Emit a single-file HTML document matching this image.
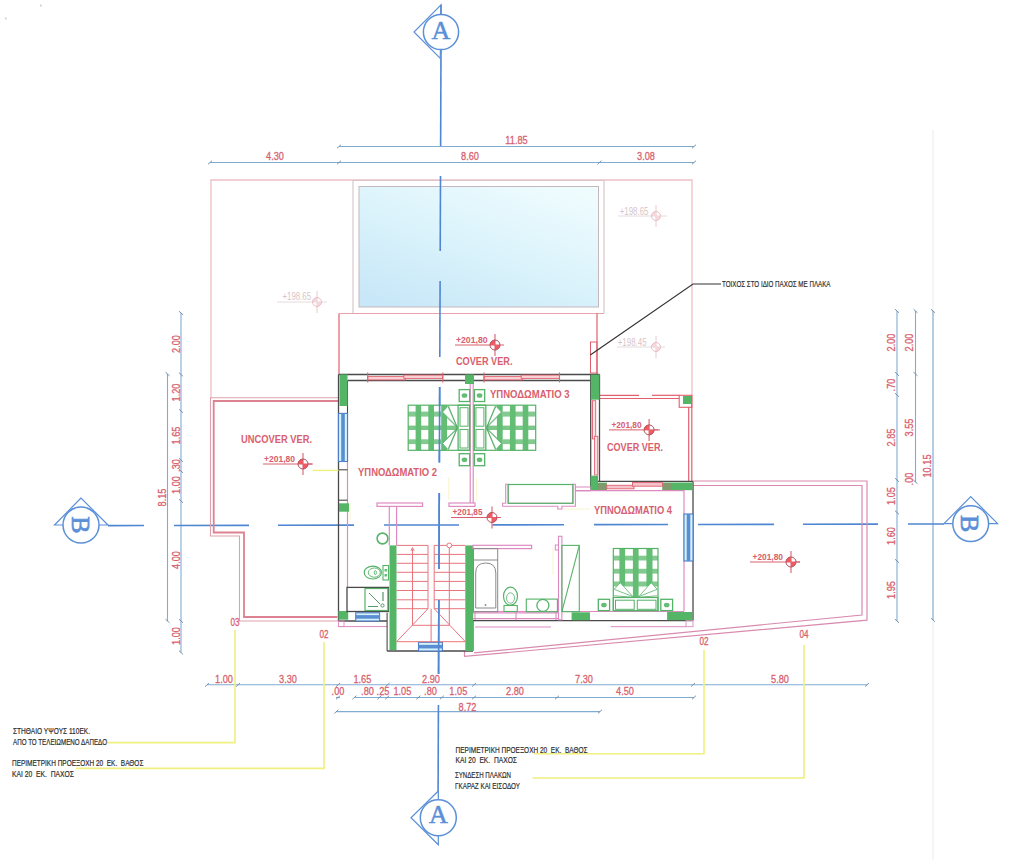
<!DOCTYPE html><html><head><meta charset="utf-8"><style>html,body{margin:0;padding:0;background:#fff;overflow:hidden}svg{display:block}</style></head><body>
<svg width="1024" height="860" viewBox="0 0 1024 860">
<defs><linearGradient id="pool" x1="0.15" y1="1" x2="0.85" y2="0"><stop offset="0" stop-color="#c8e7f8"/><stop offset="0.45" stop-color="#d9f2fb"/><stop offset="1" stop-color="#effcfe"/></linearGradient></defs>
<rect width="1024" height="860" fill="#fff"/>
<rect x="40" y="4.5" width="1.6" height="2" fill="#d0d0d0"/><rect x="5" y="17.5" width="1.6" height="2" fill="#d0d0d0"/>
<line x1="933" y1="130" x2="933" y2="860" stroke="#ebebeb" stroke-width="1" />
<polyline points="211,398 211,180 692,180 692,395" stroke="#f0bec6" stroke-width="1.3" fill="none"/>
<rect x="359" y="186.5" width="239.50" height="120.50" fill="url(#pool)" stroke="none" stroke-width="1" />
<rect x="359" y="186.5" width="239.50" height="120.50" fill="none" stroke="#c4b8bc" stroke-width="1" />
<polyline points="353,313 353,180.5 604,180.5 604,313" stroke="#d8c8cc" stroke-width="1.2" fill="none"/>
<line x1="339" y1="313.5" x2="339" y2="374" stroke="#e2606e" stroke-width="1.2" />
<line x1="339" y1="313.5" x2="604" y2="313.5" stroke="#e8a0aa" stroke-width="1.2" />
<line x1="597" y1="313.5" x2="597" y2="374" stroke="#e2606e" stroke-width="1.2" />
<rect x="590.5" y="342" width="6.50" height="31.00" fill="none" stroke="#e2606e" stroke-width="1" />
<line x1="339" y1="146.5" x2="694" y2="146.5" stroke="#80acd2" stroke-width="1.1" />
<line x1="210" y1="162.5" x2="694" y2="162.5" stroke="#80acd2" stroke-width="1.1" />
<line x1="337" y1="148.3" x2="341" y2="144.7" stroke="#6a8aa6" stroke-width="0.9" />
<line x1="692" y1="148.3" x2="696" y2="144.7" stroke="#6a8aa6" stroke-width="0.9" />
<line x1="208" y1="164.3" x2="212" y2="160.7" stroke="#6a8aa6" stroke-width="0.9" />
<line x1="337" y1="164.3" x2="341" y2="160.7" stroke="#6a8aa6" stroke-width="0.9" />
<line x1="597.5" y1="164.3" x2="601.5" y2="160.7" stroke="#6a8aa6" stroke-width="0.9" />
<line x1="692" y1="164.3" x2="696" y2="160.7" stroke="#6a8aa6" stroke-width="0.9" />
<text transform="translate(516.5,140.3) scale(0.8,1)" y="4.12" font-family="Liberation Sans" font-size="11.5" fill="#d8606e" stroke="#d8606e" stroke-width="0.3" text-anchor="middle" font-weight="normal" opacity="1">11.85</text>
<text transform="translate(275,156) scale(0.8,1)" y="4.12" font-family="Liberation Sans" font-size="11.5" fill="#d8606e" stroke="#d8606e" stroke-width="0.3" text-anchor="middle" font-weight="normal" opacity="1">4.30</text>
<text transform="translate(470,156) scale(0.8,1)" y="4.12" font-family="Liberation Sans" font-size="11.5" fill="#d8606e" stroke="#d8606e" stroke-width="0.3" text-anchor="middle" font-weight="normal" opacity="1">8.60</text>
<text transform="translate(646,156) scale(0.8,1)" y="4.12" font-family="Liberation Sans" font-size="11.5" fill="#d8606e" stroke="#d8606e" stroke-width="0.3" text-anchor="middle" font-weight="normal" opacity="1">3.08</text>
<line x1="181" y1="313" x2="181" y2="652.5" stroke="#80acd2" stroke-width="1.1" />
<line x1="179" y1="311.2" x2="183" y2="314.8" stroke="#6a8aa6" stroke-width="0.9" />
<line x1="179" y1="372.7" x2="183" y2="376.3" stroke="#6a8aa6" stroke-width="0.9" />
<line x1="179" y1="409.2" x2="183" y2="412.8" stroke="#6a8aa6" stroke-width="0.9" />
<line x1="179" y1="458.2" x2="183" y2="461.8" stroke="#6a8aa6" stroke-width="0.9" />
<line x1="179" y1="469.2" x2="183" y2="472.8" stroke="#6a8aa6" stroke-width="0.9" />
<line x1="179" y1="499.2" x2="183" y2="502.8" stroke="#6a8aa6" stroke-width="0.9" />
<line x1="179" y1="619.2" x2="183" y2="622.8" stroke="#6a8aa6" stroke-width="0.9" />
<line x1="179" y1="650.7" x2="183" y2="654.3" stroke="#6a8aa6" stroke-width="0.9" />
<line x1="167.5" y1="374" x2="167.5" y2="621" stroke="#80acd2" stroke-width="1.1" />
<line x1="165.5" y1="372.2" x2="169.5" y2="375.8" stroke="#6a8aa6" stroke-width="0.9" />
<line x1="165.5" y1="619.2" x2="169.5" y2="622.8" stroke="#6a8aa6" stroke-width="0.9" />
<text transform="translate(175.5,344) rotate(-90) scale(0.8,1)" y="4.12" font-family="Liberation Sans" font-size="11.5" fill="#d8606e" stroke="#d8606e" stroke-width="0.3" text-anchor="middle" font-weight="normal" opacity="1">2.00</text>
<text transform="translate(175.5,392.5) rotate(-90) scale(0.8,1)" y="4.12" font-family="Liberation Sans" font-size="11.5" fill="#d8606e" stroke="#d8606e" stroke-width="0.3" text-anchor="middle" font-weight="normal" opacity="1">1.20</text>
<text transform="translate(175.5,435.5) rotate(-90) scale(0.8,1)" y="4.12" font-family="Liberation Sans" font-size="11.5" fill="#d8606e" stroke="#d8606e" stroke-width="0.3" text-anchor="middle" font-weight="normal" opacity="1">1.65</text>
<text transform="translate(175.5,465.5) rotate(-90) scale(0.8,1)" y="4.12" font-family="Liberation Sans" font-size="11.5" fill="#d8606e" stroke="#d8606e" stroke-width="0.3" text-anchor="middle" font-weight="normal" opacity="1">.30</text>
<text transform="translate(175.5,485) rotate(-90) scale(0.8,1)" y="4.12" font-family="Liberation Sans" font-size="11.5" fill="#d8606e" stroke="#d8606e" stroke-width="0.3" text-anchor="middle" font-weight="normal" opacity="1">1.00</text>
<text transform="translate(175.5,560) rotate(-90) scale(0.8,1)" y="4.12" font-family="Liberation Sans" font-size="11.5" fill="#d8606e" stroke="#d8606e" stroke-width="0.3" text-anchor="middle" font-weight="normal" opacity="1">4.00</text>
<text transform="translate(175.5,636) rotate(-90) scale(0.8,1)" y="4.12" font-family="Liberation Sans" font-size="11.5" fill="#d8606e" stroke="#d8606e" stroke-width="0.3" text-anchor="middle" font-weight="normal" opacity="1">1.00</text>
<text transform="translate(161.5,497.5) rotate(-90) scale(0.8,1)" y="4.12" font-family="Liberation Sans" font-size="11.5" fill="#d8606e" stroke="#d8606e" stroke-width="0.3" text-anchor="middle" font-weight="normal" opacity="1">8.15</text>
<line x1="897" y1="311" x2="897" y2="621" stroke="#80acd2" stroke-width="1.1" />
<line x1="895" y1="309.2" x2="899" y2="312.8" stroke="#6a8aa6" stroke-width="0.9" />
<line x1="895" y1="372.2" x2="899" y2="375.8" stroke="#6a8aa6" stroke-width="0.9" />
<line x1="895" y1="393.2" x2="899" y2="396.8" stroke="#6a8aa6" stroke-width="0.9" />
<line x1="895" y1="478.2" x2="899" y2="481.8" stroke="#6a8aa6" stroke-width="0.9" />
<line x1="895" y1="510.7" x2="899" y2="514.3" stroke="#6a8aa6" stroke-width="0.9" />
<line x1="895" y1="559.2" x2="899" y2="562.8" stroke="#6a8aa6" stroke-width="0.9" />
<line x1="895" y1="619.2" x2="899" y2="622.8" stroke="#6a8aa6" stroke-width="0.9" />
<line x1="915.5" y1="311" x2="915.5" y2="482" stroke="#80acd2" stroke-width="1.1" />
<line x1="913.5" y1="309.2" x2="917.5" y2="312.8" stroke="#6a8aa6" stroke-width="0.9" />
<line x1="913.5" y1="372.2" x2="917.5" y2="375.8" stroke="#6a8aa6" stroke-width="0.9" />
<line x1="913.5" y1="480.2" x2="917.5" y2="483.8" stroke="#6a8aa6" stroke-width="0.9" />
<line x1="933" y1="311" x2="933" y2="620" stroke="#80acd2" stroke-width="1.1" />
<line x1="931" y1="309.2" x2="935" y2="312.8" stroke="#6a8aa6" stroke-width="0.9" />
<line x1="931" y1="618.2" x2="935" y2="621.8" stroke="#6a8aa6" stroke-width="0.9" />
<text transform="translate(891,342.5) rotate(-90) scale(0.8,1)" y="4.12" font-family="Liberation Sans" font-size="11.5" fill="#d8606e" stroke="#d8606e" stroke-width="0.3" text-anchor="middle" font-weight="normal" opacity="1">2.00</text>
<text transform="translate(891,385) rotate(-90) scale(0.8,1)" y="4.12" font-family="Liberation Sans" font-size="11.5" fill="#d8606e" stroke="#d8606e" stroke-width="0.3" text-anchor="middle" font-weight="normal" opacity="1">.70</text>
<text transform="translate(891,437.5) rotate(-90) scale(0.8,1)" y="4.12" font-family="Liberation Sans" font-size="11.5" fill="#d8606e" stroke="#d8606e" stroke-width="0.3" text-anchor="middle" font-weight="normal" opacity="1">2.85</text>
<text transform="translate(891,496) rotate(-90) scale(0.8,1)" y="4.12" font-family="Liberation Sans" font-size="11.5" fill="#d8606e" stroke="#d8606e" stroke-width="0.3" text-anchor="middle" font-weight="normal" opacity="1">1.05</text>
<text transform="translate(891,536) rotate(-90) scale(0.8,1)" y="4.12" font-family="Liberation Sans" font-size="11.5" fill="#d8606e" stroke="#d8606e" stroke-width="0.3" text-anchor="middle" font-weight="normal" opacity="1">1.60</text>
<text transform="translate(891,590) rotate(-90) scale(0.8,1)" y="4.12" font-family="Liberation Sans" font-size="11.5" fill="#d8606e" stroke="#d8606e" stroke-width="0.3" text-anchor="middle" font-weight="normal" opacity="1">1.95</text>
<text transform="translate(909,342.5) rotate(-90) scale(0.8,1)" y="4.12" font-family="Liberation Sans" font-size="11.5" fill="#d8606e" stroke="#d8606e" stroke-width="0.3" text-anchor="middle" font-weight="normal" opacity="1">2.00</text>
<text transform="translate(909,427.5) rotate(-90) scale(0.8,1)" y="4.12" font-family="Liberation Sans" font-size="11.5" fill="#d8606e" stroke="#d8606e" stroke-width="0.3" text-anchor="middle" font-weight="normal" opacity="1">3.55</text>
<text transform="translate(909,479) rotate(-90) scale(0.8,1)" y="4.12" font-family="Liberation Sans" font-size="11.5" fill="#d8606e" stroke="#d8606e" stroke-width="0.3" text-anchor="middle" font-weight="normal" opacity="1">.00</text>
<text transform="translate(927,466) rotate(-90) scale(0.8,1)" y="4.12" font-family="Liberation Sans" font-size="11.5" fill="#d8606e" stroke="#d8606e" stroke-width="0.3" text-anchor="middle" font-weight="normal" opacity="1">10.15</text>
<line x1="207" y1="684.8" x2="867" y2="684.8" stroke="#80acd2" stroke-width="1.1" />
<line x1="205" y1="686.5999999999999" x2="209" y2="683.0" stroke="#6a8aa6" stroke-width="0.9" />
<line x1="236" y1="686.5999999999999" x2="240" y2="683.0" stroke="#6a8aa6" stroke-width="0.9" />
<line x1="336" y1="686.5999999999999" x2="340" y2="683.0" stroke="#6a8aa6" stroke-width="0.9" />
<line x1="385.5" y1="686.5999999999999" x2="389.5" y2="683.0" stroke="#6a8aa6" stroke-width="0.9" />
<line x1="472" y1="686.5999999999999" x2="476" y2="683.0" stroke="#6a8aa6" stroke-width="0.9" />
<line x1="691" y1="686.5999999999999" x2="695" y2="683.0" stroke="#6a8aa6" stroke-width="0.9" />
<line x1="865" y1="686.5999999999999" x2="869" y2="683.0" stroke="#6a8aa6" stroke-width="0.9" />
<line x1="354.4" y1="697.5" x2="694" y2="697.5" stroke="#80acd2" stroke-width="1.1" />
<line x1="336" y1="697.5" x2="340" y2="697.5" stroke="#80acd2" stroke-width="1.1" />
<line x1="336" y1="699.3" x2="340" y2="695.7" stroke="#6a8aa6" stroke-width="0.9" />
<line x1="352.4" y1="699.3" x2="356.4" y2="695.7" stroke="#6a8aa6" stroke-width="0.9" />
<line x1="377.4" y1="699.3" x2="381.4" y2="695.7" stroke="#6a8aa6" stroke-width="0.9" />
<line x1="385.2" y1="699.3" x2="389.2" y2="695.7" stroke="#6a8aa6" stroke-width="0.9" />
<line x1="416.4" y1="699.3" x2="420.4" y2="695.7" stroke="#6a8aa6" stroke-width="0.9" />
<line x1="439.9" y1="699.3" x2="443.9" y2="695.7" stroke="#6a8aa6" stroke-width="0.9" />
<line x1="472" y1="699.3" x2="476" y2="695.7" stroke="#6a8aa6" stroke-width="0.9" />
<line x1="555" y1="699.3" x2="559" y2="695.7" stroke="#6a8aa6" stroke-width="0.9" />
<line x1="692" y1="699.3" x2="696" y2="695.7" stroke="#6a8aa6" stroke-width="0.9" />
<line x1="336.4" y1="711.6" x2="600" y2="711.6" stroke="#80acd2" stroke-width="1.1" />
<line x1="334.4" y1="713.4" x2="338.4" y2="709.8000000000001" stroke="#6a8aa6" stroke-width="0.9" />
<line x1="598" y1="713.4" x2="602" y2="709.8000000000001" stroke="#6a8aa6" stroke-width="0.9" />
<text transform="translate(224,678.5) scale(0.8,1)" y="4.12" font-family="Liberation Sans" font-size="11.5" fill="#d8606e" stroke="#d8606e" stroke-width="0.3" text-anchor="middle" font-weight="normal" opacity="1">1.00</text>
<text transform="translate(288,678.5) scale(0.8,1)" y="4.12" font-family="Liberation Sans" font-size="11.5" fill="#d8606e" stroke="#d8606e" stroke-width="0.3" text-anchor="middle" font-weight="normal" opacity="1">3.30</text>
<text transform="translate(362.4,678.5) scale(0.8,1)" y="4.12" font-family="Liberation Sans" font-size="11.5" fill="#d8606e" stroke="#d8606e" stroke-width="0.3" text-anchor="middle" font-weight="normal" opacity="1">1.65</text>
<text transform="translate(431,678.5) scale(0.8,1)" y="4.12" font-family="Liberation Sans" font-size="11.5" fill="#d8606e" stroke="#d8606e" stroke-width="0.3" text-anchor="middle" font-weight="normal" opacity="1">2.90</text>
<text transform="translate(584,678.5) scale(0.8,1)" y="4.12" font-family="Liberation Sans" font-size="11.5" fill="#d8606e" stroke="#d8606e" stroke-width="0.3" text-anchor="middle" font-weight="normal" opacity="1">7.30</text>
<text transform="translate(780,678.5) scale(0.8,1)" y="4.12" font-family="Liberation Sans" font-size="11.5" fill="#d8606e" stroke="#d8606e" stroke-width="0.3" text-anchor="middle" font-weight="normal" opacity="1">5.80</text>
<text transform="translate(338,691.3) scale(0.8,1)" y="4.12" font-family="Liberation Sans" font-size="11.5" fill="#d8606e" stroke="#d8606e" stroke-width="0.3" text-anchor="middle" font-weight="normal" opacity="1">.00</text>
<text transform="translate(367.5,691.3) scale(0.8,1)" y="4.12" font-family="Liberation Sans" font-size="11.5" fill="#d8606e" stroke="#d8606e" stroke-width="0.3" text-anchor="middle" font-weight="normal" opacity="1">.80</text>
<text transform="translate(383,691.3) scale(0.8,1)" y="4.12" font-family="Liberation Sans" font-size="11.5" fill="#d8606e" stroke="#d8606e" stroke-width="0.3" text-anchor="middle" font-weight="normal" opacity="1">.25</text>
<text transform="translate(402.4,691.3) scale(0.8,1)" y="4.12" font-family="Liberation Sans" font-size="11.5" fill="#d8606e" stroke="#d8606e" stroke-width="0.3" text-anchor="middle" font-weight="normal" opacity="1">1.05</text>
<text transform="translate(430.5,691.3) scale(0.8,1)" y="4.12" font-family="Liberation Sans" font-size="11.5" fill="#d8606e" stroke="#d8606e" stroke-width="0.3" text-anchor="middle" font-weight="normal" opacity="1">.80</text>
<text transform="translate(458.3,691.3) scale(0.8,1)" y="4.12" font-family="Liberation Sans" font-size="11.5" fill="#d8606e" stroke="#d8606e" stroke-width="0.3" text-anchor="middle" font-weight="normal" opacity="1">1.05</text>
<text transform="translate(515,691.3) scale(0.8,1)" y="4.12" font-family="Liberation Sans" font-size="11.5" fill="#d8606e" stroke="#d8606e" stroke-width="0.3" text-anchor="middle" font-weight="normal" opacity="1">2.80</text>
<text transform="translate(625,691.3) scale(0.8,1)" y="4.12" font-family="Liberation Sans" font-size="11.5" fill="#d8606e" stroke="#d8606e" stroke-width="0.3" text-anchor="middle" font-weight="normal" opacity="1">4.50</text>
<text transform="translate(467.5,706.8) scale(0.8,1)" y="4.12" font-family="Liberation Sans" font-size="11.5" fill="#d8606e" stroke="#d8606e" stroke-width="0.3" text-anchor="middle" font-weight="normal" opacity="1">8.72</text>
<line x1="441.0" y1="50" x2="440.62" y2="146" stroke="#4f86d2" stroke-width="1.6" />
<line x1="440.51" y1="176" x2="440.21" y2="251" stroke="#4f86d2" stroke-width="1.6" />
<line x1="440.1" y1="281" x2="439.8" y2="357" stroke="#4f86d2" stroke-width="1.6" />
<line x1="439.68" y1="387" x2="439.38" y2="462.5" stroke="#4f86d2" stroke-width="1.6" />
<line x1="439.27" y1="493" x2="438.97" y2="569" stroke="#4f86d2" stroke-width="1.6" />
<line x1="438.85" y1="600" x2="438.56" y2="674" stroke="#4f86d2" stroke-width="1.6" />
<line x1="438.43" y1="705" x2="438.07" y2="798" stroke="#4f86d2" stroke-width="1.6" />
<line x1="108" y1="525.6" x2="144" y2="525.53" stroke="#4f86d2" stroke-width="1.6" />
<line x1="174" y1="525.47" x2="249" y2="525.33" stroke="#4f86d2" stroke-width="1.6" />
<line x1="278" y1="525.27" x2="354" y2="525.13" stroke="#4f86d2" stroke-width="1.6" />
<line x1="384" y1="525.07" x2="459" y2="524.93" stroke="#4f86d2" stroke-width="1.6" />
<line x1="492.5" y1="524.86" x2="564" y2="524.73" stroke="#4f86d2" stroke-width="1.6" />
<line x1="594" y1="524.67" x2="668" y2="524.53" stroke="#4f86d2" stroke-width="1.6" />
<line x1="698" y1="524.47" x2="774" y2="524.33" stroke="#4f86d2" stroke-width="1.6" />
<line x1="803" y1="524.27" x2="878" y2="524.13" stroke="#4f86d2" stroke-width="1.6" />
<line x1="908" y1="524.07" x2="944" y2="524.0" stroke="#4f86d2" stroke-width="1.6" />
<polygon points="441,4.8 414,32 440.3,58.4" stroke="#5b90d8" stroke-width="1.2" fill="#fff"/>
<circle cx="441" cy="32" r="17.6" fill="#fff" stroke="#5b90d8" stroke-width="1.5"/>
<line x1="441" y1="4.8" x2="441" y2="14.5" stroke="#4f86d2" stroke-width="1.4" />
<text x="441" y="39" font-family="Liberation Serif" font-size="26" fill="#5b90d8" stroke="#5b90d8" stroke-width="0.55" text-anchor="middle">A</text>
<polygon points="438.3,791 411,817.8 438.3,844.8" stroke="#5b90d8" stroke-width="1.2" fill="#fff"/>
<circle cx="438.3" cy="817.8" r="18" fill="#fff" stroke="#5b90d8" stroke-width="1.5"/>
<text x="438.3" y="823.3" font-family="Liberation Serif" font-size="26" fill="#5b90d8" stroke="#5b90d8" stroke-width="0.55" text-anchor="middle">A</text>
<polygon points="81,498 54.5,525 108,525" stroke="#5b90d8" stroke-width="1.2" fill="#fff"/>
<circle cx="81" cy="525" r="18" fill="#fff" stroke="#5b90d8" stroke-width="1.5"/>
<text transform="translate(81,525) rotate(90)" y="9.2" font-family="Liberation Serif" font-size="26" fill="#5b90d8" stroke="#5b90d8" stroke-width="0.7" text-anchor="middle">B</text>
<polygon points="970.7,496.6 944,523.7 997.6,523.7" stroke="#5b90d8" stroke-width="1.2" fill="#fff"/>
<circle cx="970.7" cy="523.7" r="17.9" fill="#fff" stroke="#5b90d8" stroke-width="1.5"/>
<text transform="translate(970.7,523.7) rotate(90)" y="9.2" font-family="Liberation Serif" font-size="26" fill="#5b90d8" stroke="#5b90d8" stroke-width="0.7" text-anchor="middle">B</text>
<polyline points="339,397.7 210.5,397.7 210.5,536 239.5,536 239.5,621 338,621" stroke="#dea2ac" stroke-width="1.1" fill="none"/>
<polyline points="339,401 213.7,401 213.7,532.5 244,532.5 244,617 337.5,617" stroke="#dc8292" stroke-width="1.8" fill="none"/>
<polyline points="693,481 867,481 867,620.2 464.5,656.4 464.5,651" stroke="#d98aae" stroke-width="1.2" fill="none"/>
<polyline points="693,485.5 862,485.5 862,615 474,652.9" stroke="#d98aae" stroke-width="1.2" fill="none"/>
<line x1="599.5" y1="395.3" x2="639" y2="395.3" stroke="#e2606e" stroke-width="1.2" />
<line x1="652" y1="395.3" x2="679.2" y2="395.3" stroke="#e2606e" stroke-width="1.2" />
<line x1="599.5" y1="398.5" x2="679.2" y2="398.5" stroke="#e2606e" stroke-width="1.2" />
<rect x="679.2" y="395.3" width="12.60" height="12.00" fill="none" stroke="#e2606e" stroke-width="1.1" />
<rect x="683" y="396" width="8.80" height="8.00" fill="#55b567" stroke="none" stroke-width="1" />
<line x1="688.7" y1="407.3" x2="688.7" y2="482" stroke="#e2606e" stroke-width="1.2" />
<line x1="691.8" y1="395" x2="691.8" y2="482" stroke="#e2606e" stroke-width="1.2" />
<line x1="338.5" y1="374.5" x2="599.5" y2="374.5" stroke="#4a4a4a" stroke-width="1.3" />
<line x1="347.5" y1="380.5" x2="590.5" y2="380.5" stroke="#4a4a4a" stroke-width="1.3" />
<line x1="338.5" y1="374.5" x2="338.5" y2="621" stroke="#4a4a4a" stroke-width="1.3" />
<line x1="347.5" y1="461.5" x2="347.5" y2="587.5" stroke="#de8ac2" stroke-width="1.2" />
<line x1="347.5" y1="380.5" x2="347.5" y2="461.5" stroke="#4a4a4a" stroke-width="1.1" />
<line x1="338.5" y1="500.2" x2="347.5" y2="500.2" stroke="#4a4a4a" stroke-width="1.1" />
<line x1="338.5" y1="469.8" x2="347.5" y2="469.8" stroke="#4a4a4a" stroke-width="1.1" />
<line x1="590.7" y1="374.5" x2="590.7" y2="490" stroke="#4a4a4a" stroke-width="1.3" />
<line x1="599.5" y1="374.5" x2="599.5" y2="482" stroke="#4a4a4a" stroke-width="1.3" />
<rect x="592.5" y="400.7" width="3.20" height="38.20" fill="#fbe3e6" stroke="#e2606e" stroke-width="0.9" />
<rect x="594.6" y="436.3" width="3.20" height="38.70" fill="#fbe3e6" stroke="#e2606e" stroke-width="0.9" />
<line x1="598" y1="481.4" x2="693" y2="481.4" stroke="#4a4a4a" stroke-width="1.3" />
<line x1="693" y1="481.4" x2="693" y2="620.5" stroke="#4a4a4a" stroke-width="1.3" />
<line x1="684" y1="490" x2="684" y2="611" stroke="#de8ac2" stroke-width="1.2" />
<line x1="473" y1="620.7" x2="693" y2="620.7" stroke="#4a4a4a" stroke-width="1.3" />
<line x1="473" y1="611.5" x2="684" y2="611.5" stroke="#de8ac2" stroke-width="1.1" />
<line x1="338.5" y1="621" x2="387" y2="621" stroke="#4a4a4a" stroke-width="1.3" />
<line x1="338.5" y1="626.6" x2="387" y2="626.6" stroke="#de8ac2" stroke-width="1" />
<rect x="338.5" y="621" width="5.50" height="5.60" fill="none" stroke="#de8ac2" stroke-width="0.9" />
<line x1="387.1" y1="612.8" x2="387.1" y2="651" stroke="#4a4a4a" stroke-width="1.1" />
<line x1="387.1" y1="651" x2="473" y2="651" stroke="#4a4a4a" stroke-width="1.3" />
<line x1="473" y1="620.7" x2="473" y2="651" stroke="#4a4a4a" stroke-width="1.1" />
<rect x="686" y="620.5" width="7.00" height="6.20" fill="none" stroke="#de8ac2" stroke-width="0.9" />
<line x1="610.6" y1="626.7" x2="686" y2="626.7" stroke="#de8ac2" stroke-width="1" />
<line x1="475" y1="627" x2="551" y2="627" stroke="#de8ac2" stroke-width="1" />
<rect x="575.4" y="487" width="15.10" height="3.80" fill="none" stroke="#de8ac2" stroke-width="1" />
<line x1="470.2" y1="384" x2="470.2" y2="504" stroke="#de8ac2" stroke-width="1.2" />
<line x1="473.2" y1="384" x2="473.2" y2="504" stroke="#de8ac2" stroke-width="1.2" />
<rect x="339.5" y="374.5" width="8.00" height="31.50" fill="#55b567" stroke="none" stroke-width="1" />
<rect x="465" y="374.5" width="9.00" height="9.50" fill="#55b567" stroke="none" stroke-width="1" />
<rect x="590.7" y="374.6" width="8.80" height="25.10" fill="#55b567" stroke="none" stroke-width="1" />
<rect x="339" y="503.3" width="10.00" height="8.40" fill="#55b567" stroke="none" stroke-width="1" />
<rect x="338.5" y="611" width="9.70" height="8.70" fill="#55b567" stroke="none" stroke-width="1" />
<rect x="389.5" y="545.4" width="7.00" height="104.60" fill="#55b567" stroke="none" stroke-width="1" />
<rect x="465.3" y="545.4" width="7.90" height="105.60" fill="#55b567" stroke="none" stroke-width="1" />
<rect x="590.5" y="475.7" width="7.50" height="14.50" fill="#55b567" stroke="none" stroke-width="1" />
<rect x="598" y="482.6" width="8.80" height="7.60" fill="#55b567" stroke="none" stroke-width="1" />
<rect x="662.5" y="482.5" width="30.00" height="7.70" fill="#55b567" stroke="none" stroke-width="1" />
<rect x="571.6" y="612.3" width="18.40" height="7.90" fill="#55b567" stroke="none" stroke-width="1" />
<rect x="667.1" y="612" width="25.20" height="8.20" fill="#55b567" stroke="none" stroke-width="1" />
<rect x="597.5" y="483.5" width="9.30" height="6.70" fill="#7f9a6c" stroke="none" stroke-width="1" />
<rect x="662.5" y="483" width="9.00" height="7.20" fill="#7f9a6c" stroke="none" stroke-width="1" />
<rect x="338.5" y="413.4" width="9.00" height="48.10" fill="#d6f2fb" stroke="#4a7cc8" stroke-width="1.1" />
<rect x="341.2" y="413.4" width="3.60" height="48.10" fill="#5a8ed2" stroke="none" stroke-width="1" />
<rect x="355.7" y="612.8" width="23.90" height="8.20" fill="#d6f2fb" stroke="#4a7cc8" stroke-width="1.1" />
<rect x="355.7" y="615.1" width="23.90" height="3.60" fill="#5a8ed2" stroke="none" stroke-width="1" />
<rect x="418.5" y="642.3" width="23.90" height="8.70" fill="#d6f2fb" stroke="#4a7cc8" stroke-width="1.1" />
<rect x="418.5" y="644.85" width="23.90" height="3.60" fill="#5a8ed2" stroke="none" stroke-width="1" />
<rect x="684" y="514" width="9.00" height="47.00" fill="#d6f2fb" stroke="#4a7cc8" stroke-width="1.1" />
<rect x="686.7" y="514" width="3.60" height="47.00" fill="#5a8ed2" stroke="none" stroke-width="1" />
<rect x="367.7" y="376.6" width="37.80" height="3.30" fill="#f8d4d8" stroke="#e2606e" stroke-width="0.9" />
<rect x="403.9" y="375.1" width="38.90" height="3.30" fill="#f8d4d8" stroke="#e2606e" stroke-width="0.9" />
<line x1="367.7" y1="372.5" x2="367.7" y2="382.5" stroke="#e2606e" stroke-width="1.1" />
<line x1="442.8" y1="372.5" x2="442.8" y2="382.5" stroke="#e2606e" stroke-width="1.1" />
<rect x="484" y="376.6" width="38.80" height="3.30" fill="#f8d4d8" stroke="#e2606e" stroke-width="0.9" />
<rect x="521.2" y="375.1" width="38.30" height="3.30" fill="#f8d4d8" stroke="#e2606e" stroke-width="0.9" />
<line x1="484" y1="372.5" x2="484" y2="382.5" stroke="#e2606e" stroke-width="1.1" />
<line x1="559.5" y1="372.5" x2="559.5" y2="382.5" stroke="#e2606e" stroke-width="1.1" />
<rect x="606.8" y="485.3" width="27.20" height="3.50" fill="#f4c4cc" stroke="#e2606e" stroke-width="0.9" />
<rect x="632.5" y="482.6" width="30.00" height="3.60" fill="#f4c4cc" stroke="#e2606e" stroke-width="0.9" />
<line x1="575" y1="490.6" x2="684" y2="490.6" stroke="#de8ac2" stroke-width="1.1" />
<line x1="473" y1="612.9" x2="558" y2="612.9" stroke="#de8ac2" stroke-width="1.1" />
<line x1="473" y1="618.6" x2="558" y2="618.6" stroke="#de8ac2" stroke-width="1.1" />
<line x1="475" y1="611.2" x2="475" y2="620" stroke="#de8ac2" stroke-width="1.1" />
<line x1="516" y1="611.2" x2="516" y2="620" stroke="#de8ac2" stroke-width="1.1" />
<line x1="556" y1="611.2" x2="556" y2="620" stroke="#de8ac2" stroke-width="1.1" />
<rect x="408.2" y="405.2" width="38.80" height="45.10" fill="#fff" stroke="none" stroke-width="1" />
<rect x="415.6" y="405.2" width="5.60" height="45.10" fill="#64bd74" stroke="none" stroke-width="1" />
<rect x="428.3" y="405.2" width="5.70" height="45.10" fill="#64bd74" stroke="none" stroke-width="1" />
<rect x="441.2" y="405.2" width="5.80" height="45.10" fill="#64bd74" stroke="none" stroke-width="1" />
<rect x="408.20" y="411.6" width="33.00" height="5.00" fill="#64bd74" opacity="0.8"/>
<rect x="408.20" y="439.3" width="33.00" height="4.80" fill="#64bd74" opacity="0.8"/>
<rect x="408.20" y="425.6" width="49.30" height="4.4" fill="#64bd74" opacity="0.85"/>
<polygon points="442.5,412.1 447.9,406.2 456.5,426.0" stroke="#55b368" stroke-width="0.8" fill="#fff"/>
<polygon points="442.5,443.5 447.9,449.4 456.5,429.6" stroke="#55b368" stroke-width="0.8" fill="#fff"/>
<line x1="447" y1="417.5" x2="457.5" y2="427.8" stroke="#3f9a52" stroke-width="0.7" />
<line x1="447" y1="438.1" x2="457.5" y2="427.8" stroke="#3f9a52" stroke-width="0.7" />
<line x1="448.5" y1="406" x2="457.5" y2="427.8" stroke="#3f9a52" stroke-width="0.7" />
<line x1="448.5" y1="449.6" x2="457.5" y2="427.8" stroke="#3f9a52" stroke-width="0.7" />
<rect x="458.1" y="405.2" width="11.50" height="45.10" fill="#fff" stroke="#55b368" stroke-width="1.3" />
<rect x="460" y="407.7" width="8.00" height="18.50" fill="none" stroke="#55b368" stroke-width="1" />
<rect x="460" y="429.4" width="8.00" height="18.60" fill="none" stroke="#55b368" stroke-width="1" />
<rect x="408.2" y="405.2" width="61.40" height="45.10" fill="none" stroke="#55b368" stroke-width="1.2" />
<rect x="496.9" y="405.2" width="38.80" height="45.10" fill="#fff" stroke="none" stroke-width="1" />
<rect x="522.7" y="405.2" width="5.60" height="45.10" fill="#64bd74" stroke="none" stroke-width="1" />
<rect x="509.9" y="405.2" width="5.70" height="45.10" fill="#64bd74" stroke="none" stroke-width="1" />
<rect x="496.9" y="405.2" width="5.80" height="45.10" fill="#64bd74" stroke="none" stroke-width="1" />
<rect x="502.70" y="411.6" width="33.00" height="5.00" fill="#64bd74" opacity="0.8"/>
<rect x="502.70" y="439.3" width="33.00" height="4.80" fill="#64bd74" opacity="0.8"/>
<rect x="486.40" y="425.6" width="49.30" height="4.4" fill="#64bd74" opacity="0.85"/>
<polygon points="501.4,412.1 496.0,406.2 487.4,426.0" stroke="#55b368" stroke-width="0.8" fill="#fff"/>
<polygon points="501.4,443.5 496.0,449.4 487.4,429.6" stroke="#55b368" stroke-width="0.8" fill="#fff"/>
<line x1="496.9" y1="417.5" x2="486.4" y2="427.8" stroke="#3f9a52" stroke-width="0.7" />
<line x1="496.9" y1="438.1" x2="486.4" y2="427.8" stroke="#3f9a52" stroke-width="0.7" />
<line x1="495.4" y1="406" x2="486.4" y2="427.8" stroke="#3f9a52" stroke-width="0.7" />
<line x1="495.4" y1="449.6" x2="486.4" y2="427.8" stroke="#3f9a52" stroke-width="0.7" />
<rect x="474.3" y="405.2" width="11.50" height="45.10" fill="#fff" stroke="#55b368" stroke-width="1.3" />
<rect x="475.9" y="407.7" width="8.00" height="18.50" fill="none" stroke="#55b368" stroke-width="1" />
<rect x="475.9" y="429.4" width="8.00" height="18.60" fill="none" stroke="#55b368" stroke-width="1" />
<rect x="474.3" y="405.2" width="61.40" height="45.10" fill="none" stroke="#55b368" stroke-width="1.2" />
<rect x="613.3" y="548.5" width="44.70" height="49.00" fill="#fff" stroke="none" stroke-width="1" />
<rect x="619.4" y="548.5" width="5.70" height="37.50" fill="#64bd74" stroke="none" stroke-width="1" />
<rect x="646.4" y="548.5" width="6.10" height="37.50" fill="#64bd74" stroke="none" stroke-width="1" />
<rect x="632.9" y="548.5" width="5.70" height="49.00" fill="#64bd74" stroke="none" stroke-width="1" />
<rect x="613.3" y="555.7" width="44.70" height="4.80" fill="#64bd74" opacity="0.8"/>
<rect x="613.3" y="568.8" width="44.70" height="4.80" fill="#64bd74" opacity="0.8"/>
<rect x="613.3" y="581.5" width="44.70" height="5.00" fill="#64bd74" opacity="0.8"/>
<polygon points="614.2,589.3 620.3,582.7 632.8,596.6" stroke="#55b368" stroke-width="0.8" fill="#fff"/>
<polygon points="657.2,589.3 651.2,582.7 638.8,596.6" stroke="#55b368" stroke-width="0.8" fill="#fff"/>
<line x1="614.2" y1="595.8" x2="635.8" y2="597.5" stroke="#3f9a52" stroke-width="0.7" />
<line x1="657.2" y1="595.8" x2="635.8" y2="597.5" stroke="#3f9a52" stroke-width="0.7" />
<rect x="613.3" y="597.5" width="44.70" height="13.10" fill="#fff" stroke="#55b368" stroke-width="1.2" />
<rect x="615.5" y="600.2" width="18.70" height="9.10" fill="none" stroke="#55b368" stroke-width="1" />
<rect x="637.3" y="600.2" width="18.70" height="9.10" fill="none" stroke="#55b368" stroke-width="1" />
<rect x="613.3" y="548.5" width="44.70" height="62.10" fill="none" stroke="#55b368" stroke-width="1.2" />
<rect x="459.2" y="389.6" width="10.50" height="11.90" fill="#fff" stroke="#55b368" stroke-width="1.3" />
<ellipse cx="464.45" cy="395.55" rx="2.8" ry="2.3" fill="#64bd74"/>
<rect x="474.4" y="389.6" width="10.30" height="11.90" fill="#fff" stroke="#55b368" stroke-width="1.3" />
<ellipse cx="479.55" cy="395.55" rx="2.8" ry="2.3" fill="#64bd74"/>
<rect x="459.2" y="453.7" width="10.50" height="12.00" fill="#fff" stroke="#55b368" stroke-width="1.3" />
<ellipse cx="464.45" cy="459.70" rx="2.8" ry="2.3" fill="#64bd74"/>
<rect x="474.4" y="453.7" width="10.30" height="12.00" fill="#fff" stroke="#55b368" stroke-width="1.3" />
<ellipse cx="479.55" cy="459.70" rx="2.8" ry="2.3" fill="#64bd74"/>
<rect x="598.3" y="599.3" width="11.30" height="11.30" fill="#fff" stroke="#55b368" stroke-width="1.3" />
<ellipse cx="603.95" cy="604.95" rx="2.8" ry="2.3" fill="#64bd74"/>
<rect x="660.8" y="599.3" width="11.80" height="11.30" fill="#fff" stroke="#55b368" stroke-width="1.3" />
<ellipse cx="666.70" cy="604.95" rx="2.8" ry="2.3" fill="#64bd74"/>
<rect x="377" y="503" width="45.60" height="3.40" fill="#fff" stroke="#de8ac2" stroke-width="1.2" />
<line x1="389.3" y1="506.4" x2="389.3" y2="545.4" stroke="#de8ac2" stroke-width="1.2" />
<line x1="396.6" y1="506.4" x2="396.6" y2="545.4" stroke="#de8ac2" stroke-width="1.2" />
<rect x="449" y="503" width="26.00" height="3.40" fill="#fff" stroke="#de8ac2" stroke-width="1.2" />
<circle cx="382.5" cy="538.5" r="5.4" fill="none" stroke="#55b368" stroke-width="1.6"/>
<ellipse cx="372.8" cy="572.6" rx="8.6" ry="6.4" fill="none" stroke="#55b368" stroke-width="1.2"/>
<ellipse cx="374.3" cy="572.6" rx="6" ry="4.6" fill="none" stroke="#55b368" stroke-width="0.9"/>
<ellipse cx="375.3" cy="572.6" rx="1.1" ry="2" fill="none" stroke="#55b368" stroke-width="0.9"/>
<rect x="383" y="565.5" width="5.50" height="14.50" fill="#fff" stroke="#55b368" stroke-width="1.1" />
<rect x="384.5" y="569" width="2.50" height="2.50" fill="#64bd74" stroke="none" stroke-width="1" />
<rect x="384.5" y="574" width="2.50" height="2.50" fill="#64bd74" stroke="none" stroke-width="1" />
<rect x="347" y="587.4" width="41.40" height="24.10" fill="#fff" stroke="#4a4a4a" stroke-width="1.3" />
<rect x="365" y="588.5" width="23.00" height="22.00" fill="none" stroke="#55b368" stroke-width="1.2" />
<line x1="369" y1="593" x2="380" y2="604" stroke="#3f8f55" stroke-width="0.9" />
<line x1="383" y1="592" x2="383" y2="601" stroke="#3f8f55" stroke-width="1.1" />
<line x1="368" y1="606.5" x2="378" y2="606.5" stroke="#3f8f55" stroke-width="0.9" />
<circle cx="382.5" cy="605.5" r="1.6" fill="none" stroke="#3f8f55" stroke-width="0.9"/>
<line x1="396.6" y1="545.4" x2="428" y2="545.4" stroke="#e8747c" stroke-width="1" />
<line x1="434.2" y1="545.4" x2="465.3" y2="545.4" stroke="#e8747c" stroke-width="1" />
<line x1="396.6" y1="554.4" x2="428" y2="554.4" stroke="#e8747c" stroke-width="1" />
<line x1="434.2" y1="554.4" x2="465.3" y2="554.4" stroke="#e8747c" stroke-width="1" />
<line x1="396.6" y1="563.3" x2="428" y2="563.3" stroke="#e8747c" stroke-width="1" />
<line x1="434.2" y1="563.3" x2="465.3" y2="563.3" stroke="#e8747c" stroke-width="1" />
<line x1="396.6" y1="572.3" x2="428" y2="572.3" stroke="#e8747c" stroke-width="1" />
<line x1="434.2" y1="572.3" x2="465.3" y2="572.3" stroke="#e8747c" stroke-width="1" />
<line x1="396.6" y1="581.4" x2="428" y2="581.4" stroke="#e8747c" stroke-width="1" />
<line x1="434.2" y1="581.4" x2="465.3" y2="581.4" stroke="#e8747c" stroke-width="1" />
<line x1="396.6" y1="590.5" x2="428" y2="590.5" stroke="#e8747c" stroke-width="1" />
<line x1="434.2" y1="590.5" x2="465.3" y2="590.5" stroke="#e8747c" stroke-width="1" />
<line x1="396.6" y1="599.8" x2="428" y2="599.8" stroke="#e8747c" stroke-width="1" />
<line x1="434.2" y1="599.8" x2="465.3" y2="599.8" stroke="#e8747c" stroke-width="1" />
<line x1="396.6" y1="608.7" x2="428" y2="608.7" stroke="#e8747c" stroke-width="1" />
<line x1="434.2" y1="608.7" x2="465.3" y2="608.7" stroke="#e8747c" stroke-width="1" />
<line x1="428" y1="545.4" x2="428" y2="608.7" stroke="#e8747c" stroke-width="1" />
<line x1="434.2" y1="545.4" x2="434.2" y2="608.7" stroke="#e8747c" stroke-width="1" />
<line x1="412.5" y1="549" x2="412.5" y2="625.3" stroke="#e8747c" stroke-width="1" />
<polyline points="410.8,551 412.5,547.5 414.2,551" stroke="#e8747c" stroke-width="0.9" fill="none"/>
<line x1="449.3" y1="548" x2="449.3" y2="625.3" stroke="#e8747c" stroke-width="1" />
<circle cx="449.3" cy="545.4" r="2.4" fill="#fff" stroke="#e8747c" stroke-width="1"/>
<line x1="412.5" y1="625.3" x2="449.3" y2="625.3" stroke="#e8747c" stroke-width="1" />
<line x1="428" y1="608.7" x2="396.6" y2="641.7" stroke="#e8747c" stroke-width="1" />
<line x1="434.2" y1="608.7" x2="465.3" y2="641.7" stroke="#e8747c" stroke-width="1" />
<line x1="431.1" y1="608.7" x2="431.1" y2="641.7" stroke="#e8747c" stroke-width="1" />
<line x1="396.6" y1="641.7" x2="465.3" y2="641.7" stroke="#e8747c" stroke-width="1" />
<rect x="473" y="545.3" width="58.60" height="3.30" fill="#fff" stroke="#de8ac2" stroke-width="1.2" />
<rect x="473.5" y="548.6" width="24.20" height="63.10" fill="none" stroke="#8a8a8a" stroke-width="1" />
<line x1="473.5" y1="560" x2="497.7" y2="560" stroke="#8a8a8a" stroke-width="1" />
<path d="M475.7,608 L475.7,573 Q475.7,563 485.7,563 Q495.8,563 495.8,573 L495.8,608 Z" fill="none" stroke="#8a8a8a" stroke-width="1"/>
<circle cx="485.5" cy="605" r="0.9" fill="#8a8a8a"/>
<ellipse cx="510.5" cy="596.2" rx="7" ry="9" fill="none" stroke="#55b368" stroke-width="1.2"/>
<ellipse cx="510.5" cy="598" rx="4" ry="5.2" fill="none" stroke="#55b368" stroke-width="0.8"/>
<rect x="504" y="605.5" width="13.30" height="6.00" fill="none" stroke="#55b368" stroke-width="1.1" />
<rect x="526.3" y="599.1" width="31.10" height="12.60" fill="none" stroke="#55b368" stroke-width="1.1" />
<circle cx="542.9" cy="605.4" r="6" fill="none" stroke="#55b368" stroke-width="1.3"/>
<rect x="558.5" y="536.3" width="3.40" height="83.50" fill="#fff" stroke="#de8ac2" stroke-width="1.1" />
<rect x="555.3" y="545" width="3.20" height="5.00" fill="none" stroke="#de8ac2" stroke-width="1" />
<rect x="561.9" y="545.4" width="17.40" height="66.30" fill="none" stroke="#55b368" stroke-width="1.1" />
<line x1="561.9" y1="611.7" x2="579.3" y2="545.4" stroke="#55b368" stroke-width="1.1" />
<path d="M505.7,484.2 L508.2,484.2 L508.2,503.3 L572.9,503.3 L572.9,484.2 L575.4,484.2 L575.4,506.2 L561.9,506.2 L561.9,509 L557.8,509 L557.8,506.2 L502.6,506.2 L502.6,503.3 L505.7,503.3 Z" fill="none" stroke="#de8ac2" stroke-width="1.1"/>
<rect x="508.2" y="484.5" width="64.70" height="18.80" fill="none" stroke="#55b368" stroke-width="1.2" />
<line x1="448.7" y1="477" x2="448.7" y2="500" stroke="#f8f8d4" stroke-width="1.2" />
<line x1="476.5" y1="478" x2="476.5" y2="500" stroke="#f8f8d4" stroke-width="1.2" />
<line x1="553" y1="548" x2="553" y2="575" stroke="#f8f8d4" stroke-width="1.2" />
<line x1="563" y1="509" x2="590" y2="509" stroke="#f8f8d4" stroke-width="1.2" />
<line x1="350" y1="503" x2="350" y2="520" stroke="#f8f8d4" stroke-width="1.2" />
<line x1="439.68" y1="387" x2="439.38" y2="462.5" stroke="#4f86d2" stroke-width="1.6" />
<line x1="439.27" y1="493" x2="438.97" y2="569" stroke="#4f86d2" stroke-width="1.6" />
<line x1="438.85" y1="600" x2="438.56" y2="674" stroke="#4f86d2" stroke-width="1.6" />
<text x="456.00" y="343.45" textLength="31.50" lengthAdjust="spacingAndGlyphs" font-family="Liberation Sans" font-size="9.58" font-weight="bold" fill="#d8606e" opacity="1">+201,80</text>
<line x1="455" y1="345" x2="500" y2="345" stroke="#d8606e" stroke-width="1.0" />
<line x1="495" y1="334" x2="495" y2="356" stroke="#d8606e" stroke-width="1.1" />
<path d="M495,345 L490,345 A5,5 0 0 1 495,340 Z M495,345 L500,345 A5,5 0 0 1 495,350 Z" fill="#f05a62"/>
<circle cx="495" cy="345" r="5" fill="none" stroke="#b0505a" stroke-width="1"/>
<line x1="500" y1="345" x2="504" y2="345" stroke="#d8606e" stroke-width="1" />
<text x="264.00" y="462.45" textLength="31.00" lengthAdjust="spacingAndGlyphs" font-family="Liberation Sans" font-size="9.58" font-weight="bold" fill="#d8606e" opacity="1">+201,80</text>
<line x1="263" y1="464" x2="313" y2="464" stroke="#d8606e" stroke-width="1.0" />
<line x1="303" y1="453" x2="303" y2="475" stroke="#d8606e" stroke-width="1.1" />
<path d="M303,464 L298,464 A5,5 0 0 1 303,459 Z M303,464 L308,464 A5,5 0 0 1 303,469 Z" fill="#f05a62"/>
<circle cx="303" cy="464" r="5" fill="none" stroke="#b0505a" stroke-width="1"/>
<line x1="308" y1="464" x2="312" y2="464" stroke="#d8606e" stroke-width="1" />
<text x="611.40" y="428.25" textLength="30.20" lengthAdjust="spacingAndGlyphs" font-family="Liberation Sans" font-size="9.58" font-weight="bold" fill="#d8606e" opacity="1">+201,80</text>
<line x1="609" y1="429.9" x2="660" y2="429.9" stroke="#d8606e" stroke-width="1.0" />
<line x1="649.1" y1="418.9" x2="649.1" y2="440.9" stroke="#d8606e" stroke-width="1.1" />
<path d="M649.1,429.9 L644.1,429.9 A5,5 0 0 1 649.1,424.9 Z M649.1,429.9 L654.1,429.9 A5,5 0 0 1 649.1,434.9 Z" fill="#f05a62"/>
<circle cx="649.1" cy="429.9" r="5" fill="none" stroke="#b0505a" stroke-width="1"/>
<line x1="654.1" y1="429.9" x2="658.1" y2="429.9" stroke="#d8606e" stroke-width="1" />
<text x="452.50" y="515.45" textLength="30.00" lengthAdjust="spacingAndGlyphs" font-family="Liberation Sans" font-size="9.58" font-weight="bold" fill="#d8606e" opacity="1">+201,85</text>
<line x1="451" y1="517.5" x2="497" y2="517.5" stroke="#d8606e" stroke-width="1.0" />
<line x1="492" y1="506.5" x2="492" y2="528.5" stroke="#d8606e" stroke-width="1.1" />
<path d="M492,517.5 L487,517.5 A5,5 0 0 1 492,512.5 Z M492,517.5 L497,517.5 A5,5 0 0 1 492,522.5 Z" fill="#f05a62"/>
<circle cx="492" cy="517.5" r="5" fill="none" stroke="#b0505a" stroke-width="1"/>
<line x1="497" y1="517.5" x2="501" y2="517.5" stroke="#d8606e" stroke-width="1" />
<text x="752.50" y="560.45" textLength="30.50" lengthAdjust="spacingAndGlyphs" font-family="Liberation Sans" font-size="9.58" font-weight="bold" fill="#d8606e" opacity="1">+201,80</text>
<line x1="750" y1="562" x2="800" y2="562" stroke="#d8606e" stroke-width="1.0" />
<line x1="791" y1="551" x2="791" y2="573" stroke="#d8606e" stroke-width="1.1" />
<path d="M791,562 L786,562 A5,5 0 0 1 791,557 Z M791,562 L796,562 A5,5 0 0 1 791,567 Z" fill="#f05a62"/>
<circle cx="791" cy="562" r="5" fill="none" stroke="#b0505a" stroke-width="1"/>
<line x1="796" y1="562" x2="800" y2="562" stroke="#d8606e" stroke-width="1" />
<text x="282.50" y="299.70" textLength="28.50" lengthAdjust="spacingAndGlyphs" font-family="Liberation Sans" font-size="10.28" font-weight="normal" fill="#d8c4c8" opacity="1">+198.65</text>
<line x1="277" y1="302" x2="327" y2="302" stroke="#e2d6d8" stroke-width="0.9" />
<line x1="317" y1="291" x2="317" y2="313" stroke="#e6c4ca" stroke-width="0.9" />
<path d="M317,302 L312.5,302 A4.5,4.5 0 0 1 317,297.5 Z M317,302 L321.5,302 A4.5,4.5 0 0 1 317,306.5 Z" fill="#f6d8dc"/>
<circle cx="317" cy="302" r="4.5" fill="none" stroke="#e6b8c0" stroke-width="0.9"/>
<text x="619.70" y="214.70" textLength="28.80" lengthAdjust="spacingAndGlyphs" font-family="Liberation Sans" font-size="10.28" font-weight="normal" fill="#d8c4c8" opacity="1">+198.65</text>
<line x1="618" y1="216" x2="667" y2="216" stroke="#e2d6d8" stroke-width="0.9" />
<line x1="656" y1="205" x2="656" y2="227" stroke="#e6c4ca" stroke-width="0.9" />
<path d="M656,216 L651.5,216 A4.5,4.5 0 0 1 656,211.5 Z M656,216 L660.5,216 A4.5,4.5 0 0 1 656,220.5 Z" fill="#f6d8dc"/>
<circle cx="656" cy="216" r="4.5" fill="none" stroke="#e6b8c0" stroke-width="0.9"/>
<text x="617.70" y="346.30" textLength="28.90" lengthAdjust="spacingAndGlyphs" font-family="Liberation Sans" font-size="10.28" font-weight="normal" fill="#d8c4c8" opacity="1">+198.45</text>
<line x1="617" y1="347" x2="665" y2="347" stroke="#e2d6d8" stroke-width="0.9" />
<line x1="656" y1="336" x2="656" y2="358" stroke="#e6c4ca" stroke-width="0.9" />
<path d="M656,347 L651.5,347 A4.5,4.5 0 0 1 656,342.5 Z M656,347 L660.5,347 A4.5,4.5 0 0 1 656,351.5 Z" fill="#f6d8dc"/>
<circle cx="656" cy="347" r="4.5" fill="none" stroke="#e6b8c0" stroke-width="0.9"/>
<text x="456.00" y="364.65" textLength="56.50" lengthAdjust="spacingAndGlyphs" font-family="Liberation Sans" font-size="10.14" font-weight="bold" fill="#d8606e" opacity="1">COVER VER.</text>
<text x="607.00" y="451.15" textLength="56.00" lengthAdjust="spacingAndGlyphs" font-family="Liberation Sans" font-size="10.14" font-weight="bold" fill="#d8606e" opacity="1">COVER VER.</text>
<text x="241.00" y="442.65" textLength="71.00" lengthAdjust="spacingAndGlyphs" font-family="Liberation Sans" font-size="10.14" font-weight="bold" fill="#d8606e" opacity="1">UNCOVER VER.</text>
<text x="358.00" y="475.80" textLength="79.00" lengthAdjust="spacingAndGlyphs" font-family="Liberation Sans" font-size="10.56" font-weight="bold" fill="#d8606e" opacity="1">ΥΠΝΟΔΩΜΑΤΙΟ 2</text>
<text x="490.00" y="397.80" textLength="79.50" lengthAdjust="spacingAndGlyphs" font-family="Liberation Sans" font-size="10.56" font-weight="bold" fill="#d8606e" opacity="1">ΥΠΝΟΔΩΜΑΤΙΟ 3</text>
<text x="594.00" y="514.30" textLength="78.00" lengthAdjust="spacingAndGlyphs" font-family="Liberation Sans" font-size="10.56" font-weight="bold" fill="#d8606e" opacity="1">ΥΠΝΟΔΩΜΑΤΙΟ 4</text>
<text x="230.50" y="625.75" textLength="9.00" lengthAdjust="spacingAndGlyphs" font-family="Liberation Sans" font-size="10.42" font-weight="normal" fill="#d8606e" opacity="1" stroke="#d8606e" stroke-width="0.3">03</text>
<text x="319.50" y="637.75" textLength="9.00" lengthAdjust="spacingAndGlyphs" font-family="Liberation Sans" font-size="10.42" font-weight="normal" fill="#d8606e" opacity="1" stroke="#d8606e" stroke-width="0.3">02</text>
<text x="699.50" y="644.75" textLength="9.00" lengthAdjust="spacingAndGlyphs" font-family="Liberation Sans" font-size="10.42" font-weight="normal" fill="#d8606e" opacity="1" stroke="#d8606e" stroke-width="0.3">02</text>
<text x="799.50" y="637.75" textLength="9.00" lengthAdjust="spacingAndGlyphs" font-family="Liberation Sans" font-size="10.42" font-weight="normal" fill="#d8606e" opacity="1" stroke="#d8606e" stroke-width="0.3">04</text>
<polyline points="590.3,355 693,284 721,284" stroke="#333" stroke-width="1.2" fill="none"/>
<text x="722.00" y="286.50" textLength="108.50" lengthAdjust="spacingAndGlyphs" font-family="Liberation Sans" font-size="9.17" font-weight="normal" fill="#2e2e2e" opacity="1" stroke="#2e2e2e" stroke-width="0.2">ΤΟΙΧΟΣ ΣΤΟ ΙΔΙΟ ΠΑΧΟΣ ΜΕ ΠΛΑΚΑ</text>
<polyline points="235,630 235,742.6 107,742.6" stroke="#eff07e" stroke-width="1.6" fill="none"/>
<polyline points="324,642 324,768.4 76,768.4" stroke="#eff07e" stroke-width="1.6" fill="none"/>
<line x1="312.5" y1="470.4" x2="338.5" y2="470.4" stroke="#eff07e" stroke-width="1.4" />
<polyline points="704,650 704,753.8 534,753.8" stroke="#eff07e" stroke-width="1.6" fill="none"/>
<polyline points="804,645 804,778 532.6,778" stroke="#eff07e" stroke-width="1.6" fill="none"/>
<text x="13.00" y="734.15" textLength="77.00" lengthAdjust="spacingAndGlyphs" font-family="Liberation Sans" font-size="8.75" font-weight="normal" fill="#2e2e2e" opacity="1" stroke="#2e2e2e" stroke-width="0.2">ΣΤΗΘΑΙΟ ΥΨΟΥΣ 110ΕΚ.</text>
<text x="13.00" y="745.15" textLength="94.00" lengthAdjust="spacingAndGlyphs" font-family="Liberation Sans" font-size="8.75" font-weight="normal" fill="#2e2e2e" opacity="1" stroke="#2e2e2e" stroke-width="0.2">ΑΠΟ ΤΟ ΤΕΛΕΙΩΜΕΝΟ ΔΑΠΕΔΟ</text>
<text x="12.00" y="765.95" textLength="131.40" lengthAdjust="spacingAndGlyphs" font-family="Liberation Sans" font-size="8.75" font-weight="normal" fill="#2e2e2e" opacity="1" stroke="#2e2e2e" stroke-width="0.2">ΠΕΡΙΜΕΤΡΙΚΗ ΠΡΟΕΞΟΧΗ 20&#160; ΕΚ.&#160; ΒΑΘΟΣ</text>
<text x="12.00" y="776.55" textLength="62.00" lengthAdjust="spacingAndGlyphs" font-family="Liberation Sans" font-size="8.75" font-weight="normal" fill="#2e2e2e" opacity="1" stroke="#2e2e2e" stroke-width="0.2">ΚΑΙ 20&#160; ΕΚ.&#160; ΠΑΧΟΣ</text>
<text x="455.60" y="753.15" textLength="132.00" lengthAdjust="spacingAndGlyphs" font-family="Liberation Sans" font-size="8.75" font-weight="normal" fill="#2e2e2e" opacity="1" stroke="#2e2e2e" stroke-width="0.2">ΠΕΡΙΜΕΤΡΙΚΗ ΠΡΟΕΞΟΧΗ 20&#160; ΕΚ.&#160; ΒΑΘΟΣ</text>
<text x="455.60" y="763.15" textLength="61.40" lengthAdjust="spacingAndGlyphs" font-family="Liberation Sans" font-size="8.75" font-weight="normal" fill="#2e2e2e" opacity="1" stroke="#2e2e2e" stroke-width="0.2">ΚΑΙ 20&#160; ΕΚ.&#160; ΠΑΧΟΣ</text>
<text x="455.00" y="778.15" textLength="56.00" lengthAdjust="spacingAndGlyphs" font-family="Liberation Sans" font-size="8.75" font-weight="normal" fill="#2e2e2e" opacity="1" stroke="#2e2e2e" stroke-width="0.2">ΣΥΝΔΕΣΗ ΠΛΑΚΩΝ</text>
<text x="455.00" y="789.15" textLength="65.00" lengthAdjust="spacingAndGlyphs" font-family="Liberation Sans" font-size="8.75" font-weight="normal" fill="#2e2e2e" opacity="1" stroke="#2e2e2e" stroke-width="0.2">ΓΚΑΡΑΖ ΚΑΙ ΕΙΣΟΔΟΥ</text>
</svg></body></html>
